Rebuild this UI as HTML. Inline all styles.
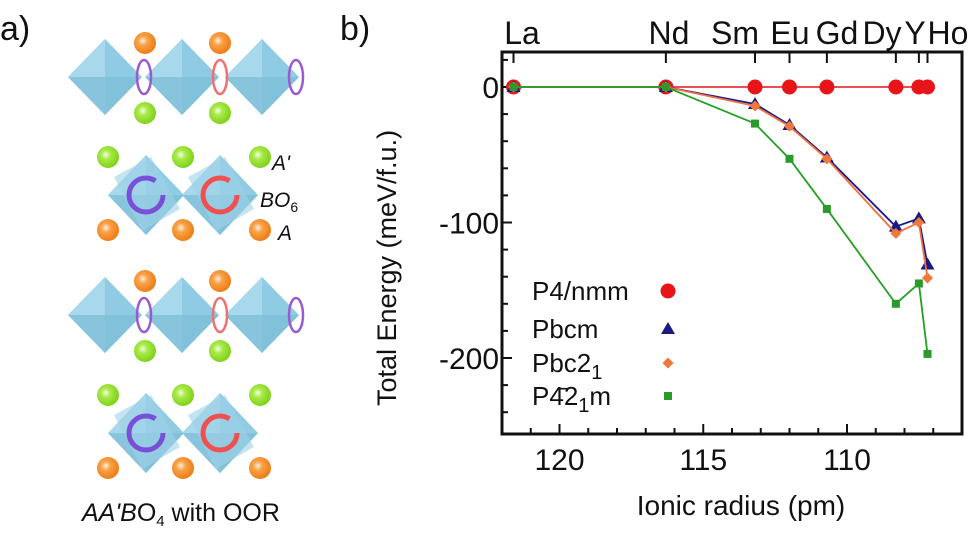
<!DOCTYPE html>
<html><head><meta charset="utf-8"><style>
html,body{margin:0;padding:0;background:#fff;}
body{width:975px;height:536px;overflow:hidden;position:relative;font-family:"Liberation Sans",sans-serif;}
svg{position:absolute;left:0;top:0;}
</style></head><body>
<svg id="fig" width="975" height="536" viewBox="0 0 975 536">
  <defs>
    <radialGradient id="gOr" cx="0.4" cy="0.4" r="0.6"><stop offset="0" stop-color="#fff2e0"/><stop offset="0.35" stop-color="#f9a24a"/><stop offset="1" stop-color="#ee7d14"/></radialGradient>
    <radialGradient id="gGr" cx="0.4" cy="0.4" r="0.6"><stop offset="0" stop-color="#f4ffe0"/><stop offset="0.35" stop-color="#a9ea4a"/><stop offset="1" stop-color="#7fd21a"/></radialGradient>
  </defs>
  <g id="panel-a"></g>
  <g id="panel-b"></g>
</svg>
<script>
// ---- chart data ----
const elements = ["La","Nd","Sm","Eu","Gd","Dy","Y","Ho"];
const radii = [121.6, 116.3, 113.2, 112.0, 110.7, 108.3, 107.5, 107.2];
const p4nmm = [0, 0, 0, 0, 0, 0, 0, 0];
const pbcm = [0, 0, -12.5, -28, -52, -103, -97, -131];
const pbc21 = [0, 0, -14, -29, -53, -108, -100, -141];
const p421m = [0, 0, -27, -53, -90, -160, -145, -197];
const xTicks = [120, 115, 110];
const yTicks = [0, -100, -200];
const seriesNames = ["P4/nmm","Pbcm","Pbc2","P4\u03042"];

const NS="http://www.w3.org/2000/svg";
function mk(tag, attrs, parent){const e=document.createElementNS(NS,tag);for(const k in attrs)e.setAttribute(k,attrs[k]);parent.appendChild(e);return e;}

// ---- panel a (schematic) ----
const A=document.getElementById('panel-a');
const la=mk('text',{x:0,y:40,'font-size':34,fill:'#111'},A);la.textContent='a)';


function ball(x,y,grad,name){const c=mk('circle',{cx:x,cy:y,r:11,fill:'url(#'+grad+')'},A);

}
function octa(cx,cy,hw,hh){
  const g=mk('g',{},A);
  
  
  mk('polygon',{points:`${cx-hw},${cy} ${cx},${cy-hh} ${cx+hw},${cy} ${cx},${cy+hh}`,fill:'#8fcbe3'},g);
  mk('polygon',{points:`${cx-hw},${cy} ${cx},${cy-hh} ${cx},${cy+hh}`,fill:'#a8d8ec'},g);
  mk('polygon',{points:`${cx-hw},${cy} ${cx+hw},${cy} ${cx},${cy+hh}`,fill:'#7bbcd6',opacity:0.7},g);
}
function loop(cx,cy,col){const p=mk('ellipse',{cx:cx,cy:cy,rx:7,ry:17,fill:'none',stroke:col,'stroke-width':2.5},A);

}
function rot(cx,cy,col){
  octa(cx,cy,38,40);
  const g=mk('g',{opacity:0.6},A);
  
  
  mk('polygon',{points:`${cx-32},${cy-18} ${cx+5},${cy-38} ${cx+34},${cy+14} ${cx-4},${cy+36}`,fill:'#9fd2e8'},g);
  const c=mk('circle',{cx:cx,cy:cy,r:17,fill:'none',stroke:col,'stroke-width':5,'stroke-dasharray':'90 20'},A);
  
  
}
function rowFlat(y){
  [105,182,262].forEach(x=>octa(x,y,37,38));
  ball(145,y-34,'gOr','a-cation');ball(220,y-34,'gOr','a-cation');
  ball(145,y+36,'gGr','a-prime-cation');ball(220,y+36,'gGr','a-prime-cation');
  loop(144,y,'#9a5bd0');loop(220,y,'#f07070');loop(296,y,'#9a5bd0');
}
function rowRot(y){
  [108,183,260].forEach(x=>ball(x,y-38,'gGr','a-prime-cation'));
  rot(146,y,'#7a4fd8');rot(220,y,'#f05050');
  [108,183,260].forEach(x=>ball(x,y+35,'gOr','a-cation'));
}
rowFlat(77);rowRot(195);rowFlat(315);rowRot(433);
function lab(x,y,t,name,sz){const e=mk('text',{x:x,y:y,'font-size':sz||21,'font-style':'italic',fill:'#111'},A);e.textContent=t;

return e;}
lab(272,170,"A'",'a-prime-label');
const bo=lab(260,207,"BO",'bo6-label');const s6=mk('tspan',{'font-size':14,dy:5,'font-style':'normal'},bo);s6.textContent='6';
lab(278,240,"A",'a-label');
const cap=mk('text',{x:82,y:521,'font-size':25,fill:'#111'},A);


cap.innerHTML='<tspan font-style="italic">AA\'B</tspan>O<tspan font-size="15" dy="5">4</tspan><tspan dy="-5"> with OOR</tspan>';

// ---- panel b chart ----
const B=document.getElementById('panel-b');
const L=502,R=962,T=52,Bt=434;
const xMin=122,xMax=106;
const yZero=87,pxPer100=135.5;
function X(v){return L+(xMin-v)*(R-L)/(xMin-xMax);}
function Y(v){return yZero-v*pxPer100/100;}

const bl=mk('text',{x:340,y:40,'font-size':34,fill:'#111'},B);bl.textContent='b)';



const frame=mk('rect',{x:L,y:T,width:R-L,height:Bt-T,fill:'none',stroke:'#111','stroke-width':3},B);



for(let v=121;v>=107;v--){
  const t=mk('line',{x1:X(v),x2:X(v),y1:Bt,y2:Bt-(v%5===0?10:6),stroke:'#111','stroke-width':2},B);
  
  
}
xTicks.forEach(v=>{
  const t=mk('text',{x:X(v),y:470,'font-size':30,'text-anchor':'middle',fill:'#111'},B);t.textContent=v;
  
  
});
for(let v=20;v>=-250;v-=20){
  const y=Y(v);if(y<T+2||y>Bt-2)continue;
  const t=mk('line',{x1:L,x2:L+(v%100===0?10:6),y1:y,y2:y,stroke:'#111','stroke-width':2},B);
  
  
}
yTicks.forEach(v=>{
  const t=mk('text',{x:499,y:Y(v)+11,'font-size':30,'text-anchor':'end',fill:'#111'},B);t.textContent=v===0?'0':'-'+(-v);
  
  
});
const labelX=[522,669,735,790,837,882,915,948];
elements.forEach((el,i)=>{
  const t=mk('line',{x1:X(radii[i]),x2:X(radii[i]),y1:T,y2:T+11,stroke:'#111','stroke-width':2},B);
  
  
  const tx=mk('text',{x:labelX[i],y:44,'font-size':32,'text-anchor':'middle',fill:'#111'},B);tx.textContent=el;
  
  
});
const xt=mk('text',{x:741,y:515,'font-size':28,'text-anchor':'middle',fill:'#111'},B);xt.textContent='Ionic radius (pm)';


const yt=mk('text',{x:0,y:0,'font-size':27,'text-anchor':'middle',fill:'#111',transform:'translate(396,268) rotate(-90)'},B);yt.textContent='Total Energy (meV/f.u.)';



function marker(kind,x,y,col,name){
  let m;
  if(kind==='circle')m=mk('circle',{cx:x,cy:y,r:7.5,fill:col},B);
  else if(kind==='tri')m=mk('polygon',{points:`${x},${y-7} ${x-7},${y+5} ${x+7},${y+5}`,fill:col},B);
  else if(kind==='dia')m=mk('polygon',{points:`${x},${y-5.5} ${x+5.5},${y} ${x},${y+5.5} ${x-5.5},${y}`,fill:col},B);
  else m=mk('rect',{x:x-4,y:y-4,width:8,height:8,fill:col},B);
  
  
}
const series=[
  {v:p4nmm,col:'#e8141a',line:'#e8343a',kind:'circle',name:'p4nmm'},
  {v:pbcm,col:'#1a1a80',line:'#1a1a90',kind:'tri',name:'pbcm'},
  {v:pbc21,col:'#f0783a',line:'#f07040',kind:'dia',name:'pbc21'},
  {v:p421m,col:'#2a9a2a',line:'#22a022',kind:'sq',name:'p421m'}
];
series.forEach(s=>{
  const pl=mk('polyline',{points:radii.map((r,i)=>X(r)+','+Y(s.v[i])).join(' '),fill:'none',stroke:s.line,'stroke-width':1.8},B);
  
  
  radii.forEach((r,i)=>marker(s.kind,X(r),Y(s.v[i]),s.col,'point-'+s.name));
});
const legY=[300,338,372,405];
series.forEach((s,i)=>{
  const g=mk('text',{x:532,y:legY[i],'font-size':26,fill:'#111'},B);
  
  
  if(i<2)g.textContent=seriesNames[i];
  else if(i===2)g.innerHTML='Pbc2<tspan font-size="20" dy="7">1</tspan>';
  else g.innerHTML='P4\u0304<tspan>2</tspan><tspan font-size="20" dy="7">1</tspan><tspan dy="-7">m</tspan>';
  marker(s.kind,668,legY[i]-9,s.col,'legend-marker-'+s.name);
});
</script>
</body></html>
